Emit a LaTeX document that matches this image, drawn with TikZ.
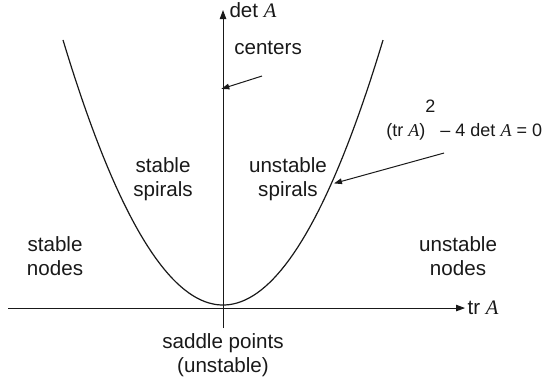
\documentclass[tikz,border=0pt]{standalone}
\usepackage{fontspec}
\setmainfont{Liberation Sans}
\newfontfamily\timesit{Liberation Serif}
\usetikzlibrary{arrows.meta,positioning}
\definecolor{ink}{RGB}{25,25,25}
\tikzset{
  lbl/.style={font=\fontsize{10.3}{11.8}\selectfont,align=center,inner sep=1pt,text=ink},
  axis/.style={-{Triangle[length=4.5pt,width=3.2pt]},ink,line width=0.5pt},
  ptr/.style={-{Triangle[length=4pt,width=2.8pt]},ink,line width=0.5pt},
  curve/.style={ink,line width=0.6pt},
}
\newcommand{\Amat}{{\timesit\itshape A}}

\begin{document}
\begin{tikzpicture}
\useasboundingbox (-3.919,-1.318) rectangle (5.658,5.413);
% axes
\coordinate (xl) at (-3.778,0);
\coordinate (xr) at (4.253,0);
\coordinate (yb) at (0,-0.351);
\coordinate (yt) at (0,5.237);
\draw[axis] (xl) -- (xr) node[lbl,right] (tr) {tr \Amat};
\draw[axis] (yb) -- (yt) node[lbl,right=2pt] (det) {det \Amat};
% boundary between nodes and spirals
\draw[curve] plot[domain=-2.812:2.812,samples=80] (\x,{0.053+0.589*\x*\x});
% regions
\node[lbl] (ss) at (-1.054,2.267) {stable\\spirals};
\node[lbl] (us) at (1.142,2.267) {unstable\\spirals};
\node[lbl] (sn) at (-2.952,0.914) {stable\\nodes};
\node[lbl] (un) at (4.130,0.914) {unstable\\nodes};
\node[lbl] (sad) at (0,-0.826) {saddle points\\(unstable)};
% pointers
\node[lbl] (ctr) at (0.791,4.569) {centers};
\coordinate (ctrA) at (0.685,4.077);
\coordinate (ctrB) at (-0.03,3.85);
\draw[ptr] (ctrA) -- (ctrB);
\node[lbl,anchor=base west,font=\fontsize{9}{11}\selectfont] (eq) at (2.83,3.023)
  {(tr \Amat)\raisebox{12pt}{2} -- 4 det \Amat{} = 0};
\coordinate (eqA) at (3.884,2.724);
\coordinate (eqB) at (1.95,2.19);
\draw[ptr] (eqA) -- (eqB);
\end{tikzpicture}
\end{document}
